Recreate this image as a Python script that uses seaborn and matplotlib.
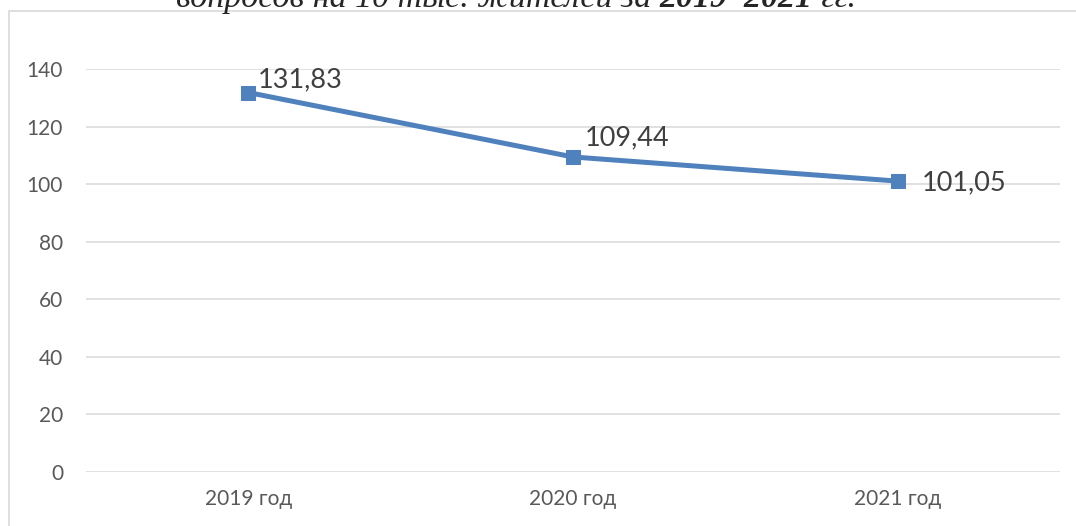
import matplotlib
matplotlib.use("Agg")
from matplotlib import pyplot as plt
from matplotlib.patches import Rectangle
import pandas as pd
import seaborn as sns

# data
years = ["2019 год", "2020 год", "2021 год"]
values = [131.83, 109.44, 101.05]
value_labels = ["131,83", "109,44", "101,05"]
y_ticks = [0, 20, 40, 60, 80, 100, 120, 140]

df = pd.DataFrame({"year": years, "value": values})

sns.set_style("white")
plt.rcParams["font.family"] = ["Lato", "DejaVu Sans"]

W, H = 1076, 526
fig = plt.figure(figsize=(W / 100, H / 100), dpi=100)
ax = fig.add_axes([86 / W, (H - 472) / H, (1060 - 86) / W, (472 - 69) / H])

blue = "#4f81bd"
sns.lineplot(data=df, x="year", y="value", ax=ax, color=blue, linewidth=3.6,
             marker="s", markersize=10, markeredgecolor=blue, sort=False)

ax.set_xlim(-0.5, 2.5)
ax.set_ylim(0, 140)
ax.set_yticks(y_ticks)
ax.set_yticklabels([str(t) for t in y_ticks])
ax.grid(axis="y", color="#d9d9d9", linewidth=1.1)
ax.set_axisbelow(True)
for s in ax.spines.values():
    s.set_visible(False)
ax.tick_params(axis="both", length=0, labelsize=15, labelcolor="#595959")
ax.tick_params(axis="y", pad=16.5)
ax.tick_params(axis="x", pad=12)
ax.set_xlabel("")
ax.set_ylabel("")

# data labels
offsets = [(6.5, 9.4), (8.6, 13.5), (17.3, -1.4)]
for i, (v, lab) in enumerate(zip(values, value_labels)):
    ax.annotate(lab, xy=(i, v), xytext=offsets[i], textcoords="offset points",
                ha="left", va="center", fontsize=19.5, color="#404040")

# chart frame
fig.patches.append(Rectangle((9 / W, -0.1), 1.2, 1 - 11 / H + 0.1,
                             transform=fig.transFigure, fill=False,
                             edgecolor="#d9d9d9", linewidth=1.2))

# cut-off caption above the chart
cap_size = 24.5
t1 = fig.text(176 / W, 1 - 7 / H, "вопросов на 10 тыс. жителей за ",
              family="Liberation Serif", style="italic", fontsize=cap_size,
              va="baseline", ha="left")
t2 = ax.annotate("2019–2021", xy=(1, 0), xycoords=t1, va="bottom", ha="left",
                 family="Liberation Serif", style="italic", weight="bold",
                 fontsize=cap_size, annotation_clip=False)
ax.annotate(" гг.", xy=(1, 0), xycoords=t2, va="bottom", ha="left",
            family="Liberation Serif", style="italic", fontsize=cap_size,
            annotation_clip=False)

fig.savefig("out.png", dpi=100)
